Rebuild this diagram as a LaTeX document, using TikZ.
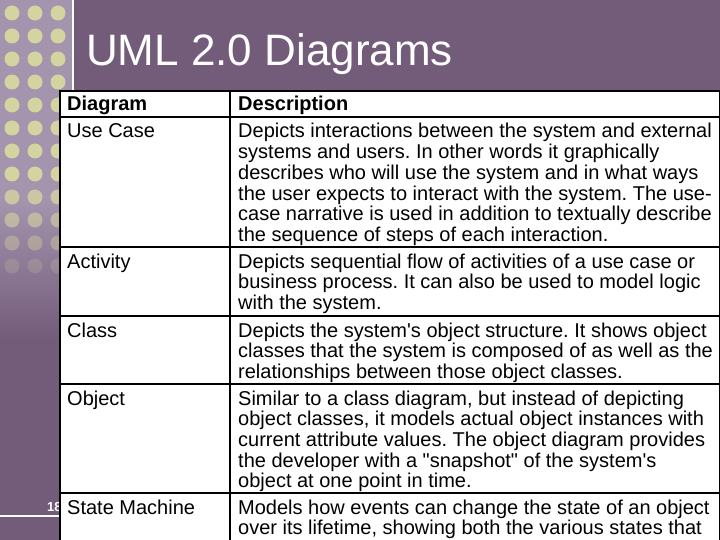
\documentclass[tikz,border=0pt]{standalone}
\usepackage{fontspec}
\setmainfont{Liberation Sans}[Ligatures=TeXOff]
\frenchspacing
\definecolor{bgdark}{HTML}{735B7A}
\definecolor{bglight}{HTML}{A494AE}
\definecolor{dotc}{HTML}{D4D4A0}
\newcommand{\tl}[1]{\begin{tabular}[t]{@{}l@{}}#1\end{tabular}}
\begin{document}
\begin{tikzpicture}[x=1pt,y=-1pt,
  cell/.style={anchor=base west,inner sep=0pt,font=\fontsize{20}{20.6}\selectfont},
  grid/.style={line width=2pt,black}]
\useasboundingbox (0,0) rectangle (720,540);
\fill[bgdark] (0,0) rectangle (720,540);
\shade[top color=bglight,bottom color=bglight] (0,0) rectangle (72,200);
\shade[top color=bglight,bottom color=bgdark] (0,200) rectangle (72,340);
\fill[white] (71.5,0) rectangle (73.5,300);
\foreach \r in {0,...,13}{
  \pgfmathsetmacro{\op}{\r<8?1:max(0,1-(\r-7)*0.2)}
  \foreach \c in {12,35,58}{
    \fill[dotc,opacity=\op] (\c,{13+23*\r}) circle (7.5);
  }
}
\draw[white,line width=2pt] (0,516) -- (60,516);
\node[anchor=base west,inner sep=0pt,text=white,font=\fontsize{13}{13}\selectfont\bfseries] (num) at (47,511) {18};
\node[anchor=base west,inner sep=0pt,text=white,font=\fontsize{44}{44}\selectfont] (title) at (86,66) {UML 2.0 Diagrams};
% table
\fill[white] (60,91) rectangle (720,541);
\draw[grid] (60,560) -- (60,91) -- (720,91) -- (720,560);
\draw[grid] (230,91) -- (230,560);
\foreach \yy in {117,247,316,384,493}{\draw[grid] (60,\yy) -- (720,\yy);}
\node[cell,font=\fontsize{20}{20.6}\selectfont\bfseries] (h1) at (67,111) {Diagram};
\node[cell,font=\fontsize{20}{20.6}\selectfont\bfseries] (h2) at (238,111) {Description};
\node[cell] (d1) at (67,138) {Use Case};
\node[cell] (e1) at (238,138) {\tl{Depicts interactions between the system and external\\systems and users. In other words it graphically\\describes who will use the system and in what ways\\the user expects to interact with the system. The use-\\case narrative is used in addition to textually describe\\the sequence of steps of each interaction.}};
\node[cell] (d2) at (67,268) {Activity};
\node[cell] (e2) at (238,268) {\tl{Depicts sequential flow of activities of a use case or\\business process. It can also be used to model logic\\with the system.}};
\node[cell] (d3) at (67,337) {Class};
\node[cell] (e3) at (238,337) {\tl{Depicts the system's object structure. It shows object\\classes that the system is composed of as well as the\\relationships between those object classes.}};
\node[cell] (d4) at (67,405) {Object};
\node[cell] (e4) at (238,405) {\tl{Similar to a class diagram, but instead of depicting\\object classes, it models actual object instances with\\current attribute values. The object diagram provides\\the developer with a "snapshot" of the system's\\object at one point in time.}};
\node[cell] (d5) at (67,514) {State Machine};
\node[cell] (e5) at (238,514) {\tl{Models how events can change the state of an object\\over its lifetime, showing both the various states that}};
\end{tikzpicture}
\end{document}
